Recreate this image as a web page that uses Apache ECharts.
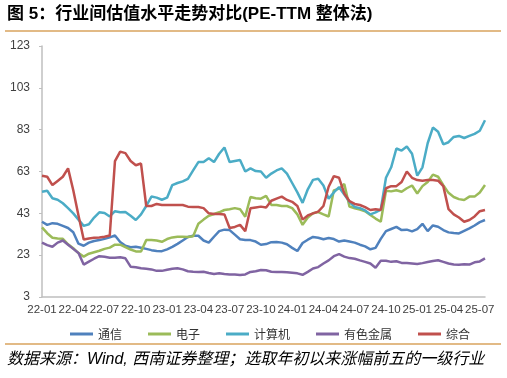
<!DOCTYPE html>
<html>
<head>
<meta charset="utf-8">
<script src="https://cdn.jsdelivr.net/npm/echarts@6/dist/echarts.min.js"></script>
<style>html,body{margin:0;padding:0;background:#fff}#c{width:507px;height:378px}</style>
</head>
<body>
<div id="c"></div>
<script>
// semi-monthly sample dates, 2022-01-01 .. 2025-07-16
const dates = [];
for (let y = 2022; y <= 2025; y++) {
  for (let m = 1; m <= 12; m++) {
    for (const d of ['01', '16']) {
      if (dates.length < 86) dates.push(y + '-' + String(m).padStart(2, '0') + '-' + d);
    }
  }
}
const seriesNames = ['通信', '电子', '计算机', '有色金属', '综合'];
const telecom = [39,37.5,38.3,38,37,36,34,28.5,27.5,29,29.8,30.2,30.8,31.5,32.4,29.3,27.5,26.8,27,26.5,26,25.4,25,24.9,25.8,27,28.4,30,31.7,32.3,32.3,30,29,31.8,34.5,35.2,35,32.8,30.6,30.2,30.2,29.5,28,28.3,29.2,29.3,29,28.2,26.5,25,28.8,30.4,31.7,31.3,30.6,31.2,30.7,29.5,30,29.5,29,28,27.2,25.8,26.5,30.8,34.5,35.5,36.5,35,35.2,34.4,35.5,38,34.5,37.2,36.6,35,33.9,33.6,33.4,34.6,35.8,37.2,38.8,39.8];
const electronics = [36.3,33.5,31.3,31,30.8,28.2,26.3,24,22.3,23.7,24.4,25.1,26,26.6,28,28,26.8,25.7,24.8,24.8,30.2,30.2,30,29.4,30.7,31.5,31.8,31.8,31.7,32,38,40,41.8,42.7,43.5,44.6,45,45.5,45,41.4,50.8,50.2,50,51.3,47,47,46.5,46.5,45.5,42.5,37.5,41,43,43.6,42.5,41.5,54,54.8,57,46.2,45.4,44.8,44,42.2,40.5,39,53.8,53.5,54,53.3,55,56.3,52.5,56,58,61.5,60.5,56.5,52.8,50.8,49.8,49.4,51,51,53,56.5];
const computer = [53.3,53.8,50.2,49.5,47.8,45.5,43,40,37,37.8,41,43.5,43.2,41.5,44,43.5,43.6,41.8,39.8,42.5,46.5,51,50.5,49.5,50.5,56.5,57.5,58.3,59.5,63.5,67.5,67.5,69.3,67.5,71.5,74.5,67.5,68,68.5,63,64.5,63.2,63,60,62,63.5,64.5,62,57.5,53,48,54.5,59,59.5,56.3,50,53,55.5,52,48.5,46,45.5,44.4,42.5,43.5,44.8,60,65,74,73,74.9,71.5,61,65,76.5,84,82,76,77,79.5,80,79,80,81,82.5,87.5];
const metals = [29,27.8,27,29,30,28,26,24,18.5,19.9,21.3,22.5,22.2,21.8,21.8,22,21.5,17.5,17.2,16.7,16.5,16.2,15.5,15.5,16,16.5,16.7,16.2,15.3,15.1,15,15.1,14.5,14,14.3,14,13.8,13.7,13.5,13.8,15,15.3,15.9,15.8,15.1,15,15,14.8,14.6,14.3,13.6,15,16.6,17.3,19,20.5,22.5,23.5,22.3,21.6,21.3,20.5,19.8,19,17,20.3,20.3,19.8,20.1,19.3,19.2,19,18.8,19.2,19.7,20.2,20.6,19.8,19,18.5,18.4,18.6,18.5,19.6,20,21.5];
const composite = [61,60.5,56.5,58.5,60.5,64.5,54,42,30.5,31,31.3,31.5,31.8,32.4,68,72.5,71.8,68,66,66.8,46.5,46.5,47.5,47,47,47,47,47,46.2,46,46,45.5,43,42.7,42.7,42.5,36,36.5,37.5,34.5,45.4,45.8,46.2,45.8,49,50,51,49.4,48.5,46.5,40,42,43,43.8,46.5,55.7,60.8,60,52.5,48.8,47.5,47,46,44.6,45,44.6,55,56,56,58,63,60,58.9,58.6,58.9,58.9,58.6,56,45,42.5,41,39,39.8,41.5,44,44.6];
const yTicks = { min: 3, max: 123, step: 20 };
const colors = ['#4F81BD', '#9BBB59', '#4BACC6', '#8064A2', '#C0504D'];
const values = [telecom, electronics, computer, metals, composite];

const chart = echarts.init(document.getElementById('c'));
chart.setOption({
  animation: false,
  color: colors,
  grid: { left: 42, right: 22, top: 46, bottom: 81, outerBoundsMode: 'none' },
  xAxis: {
    type: 'category', data: dates, boundaryGap: false,
    axisLine: { lineStyle: { color: '#BFBFBF', width: 1.5 } },
    axisTick: { show: false },
    axisLabel: { interval: 5, margin: 7, color: '#404040', fontSize: 11.5, fontFamily: 'Liberation Sans, Arial',
      formatter: v => v.slice(2, 7) },
    splitLine: { show: false }
  },
  yAxis: {
    type: 'value', min: yTicks.min, max: yTicks.max, interval: yTicks.step,
    axisLine: { show: true, lineStyle: { color: '#BFBFBF', width: 1.5 } },
    axisTick: { show: true, length: 3, lineStyle: { color: '#BFBFBF' } },
    axisLabel: { margin: 12, color: '#404040', fontSize: 12, fontFamily: 'Liberation Sans, Arial' },
    splitLine: { show: false }
  },
  legend: {
    left: 65, top: 323, itemWidth: 23, itemHeight: 3, itemGap: 26, icon: 'rect',
    textStyle: { fontSize: 12, color: '#333', fontFamily: 'Noto Sans CJK SC' },
    data: seriesNames
  },
  series: seriesNames.map((n, i) => ({
    name: n, type: 'line', data: values[i], symbol: 'none', smooth: false,
    lineStyle: { width: 2.5, color: colors[i] }, z: 2 + i
  })),
  graphic: [
    { type: 'text', left: 7, top: 6, style: { text: '图 5：行业间估值水平走势对比(PE-TTM 整体法)', font: 'bold 17px "Liberation Sans", "Noto Sans CJK SC"', fill: '#000' } },
    { type: 'line', shape: { x1: 5, y1: 31, x2: 501, y2: 31 }, style: { stroke: '#D9A35E', lineWidth: 1.5 } },
    { type: 'line', shape: { x1: 5, y1: 344, x2: 501, y2: 344 }, style: { stroke: '#D9A35E', lineWidth: 1.5 } },
    { type: 'text', left: 7, top: 352, style: { text: '数据来源：Wind, 西南证券整理；选取年初以来涨幅前五的一级行业', font: 'italic 16px "Liberation Sans", "Noto Sans CJK SC"', fill: '#000' } }
  ]
});
</script>
</body>
</html>
